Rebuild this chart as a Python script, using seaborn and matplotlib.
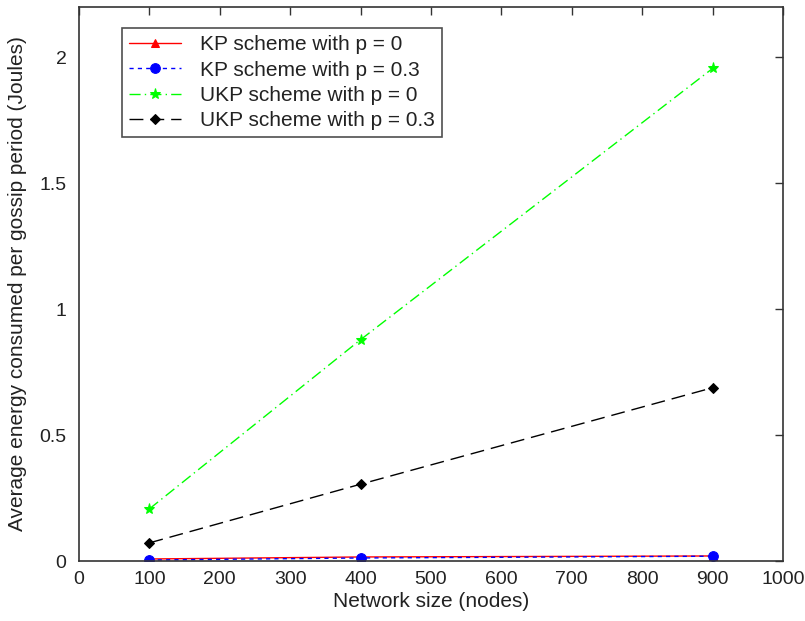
import matplotlib
matplotlib.use("Agg")
import matplotlib.pyplot as plt
import seaborn as sns
import pandas as pd

sns.set_style("white")
plt.rcParams['font.family'] = ['Liberation Sans', 'DejaVu Sans']

network_size = [100, 400, 900]
kp_p0 = [0.008, 0.016, 0.020]
kp_p03 = [0.004, 0.012, 0.019]
ukp_p0 = [0.207, 0.879, 1.956]
ukp_p03 = [0.072, 0.305, 0.688]

labels = ["KP scheme with p = 0", "KP scheme with p = 0.3",
          "UKP scheme with p = 0", "UKP scheme with p = 0.3"]
series = [kp_p0, kp_p03, ukp_p0, ukp_p03]
colors = ["#ff0000", "#0000ff", "#00ff00", "#000000"]
markers = ["^", "o", "*", "D"]
dashes = [(None, None), (3, 3), (8, 3, 1, 3), (10, 5)]
msizes = [6, 7, 8, 5]

fig = plt.figure(figsize=(8.05, 6.21), dpi=100)
ax = fig.add_axes([79/805, 1-561/621, (783-79)/805, (561-7)/621])

for lab, vals, c, m, d, ms in zip(labels, series, colors, markers, dashes, msizes):
    df = pd.DataFrame({"x": network_size, "y": vals})
    sns.lineplot(data=df, x="x", y="y", ax=ax, color=c, marker=m,
                 markersize=ms, markeredgecolor=c, linewidth=1.0, label=lab)
    l = ax.lines[-1]
    if d[0] is None:
        l.set_linestyle("-")
    else:
        l.set_dashes(d)

ax.set_xlim(0, 1000)
ax.set_ylim(0, 2.2)
ax.set_xticks(range(0, 1001, 100))
ax.set_yticks([0, 0.5, 1, 1.5, 2])
ax.set_yticklabels(["0", "0.5", "1", "1.5", "2"])
ax.tick_params(direction="in", top=True, right=True, length=6, labelsize=14,
               color="#333333", width=1, labelcolor="#222222")
ax.tick_params(axis="x", pad=7)
ax.tick_params(axis="y", pad=9)
for s in ax.spines.values():
    s.set_color("#333333")
    s.set_linewidth(1.2)
ax.set_xlabel("Network size (nodes)", fontsize=15, color="#222222", labelpad=3)
ax.set_ylabel("Average energy consumed per gossip period (Joules)", fontsize=15,
              color="#222222", labelpad=9)

leg = ax.legend(loc="upper left", bbox_to_anchor=(0.061, 0.962), fontsize=15,
                frameon=True, fancybox=False, edgecolor="#222222",
                handlelength=2.5, borderpad=0.35, labelspacing=0.3,
                handletextpad=0.9, borderaxespad=0)
leg.get_frame().set_linewidth(1.2)
for t in leg.get_texts():
    t.set_color("#222222")

fig.savefig("out.png", dpi=100)
